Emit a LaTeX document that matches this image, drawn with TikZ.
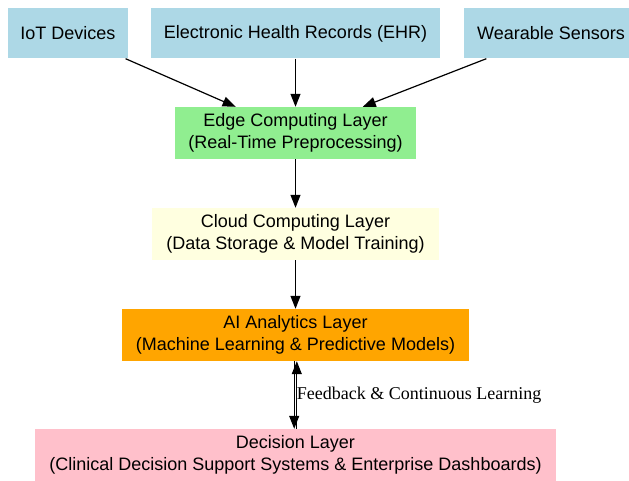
\documentclass[tikz,border=0pt]{standalone}
\usepackage{fontspec}
\setmainfont{Liberation Sans}
\newfontfamily\labelface{Liberation Serif}
\usetikzlibrary{arrows.meta}
\definecolor{srcblue}{HTML}{ADD8E6}
\definecolor{edgegreen}{HTML}{90EE90}
\definecolor{cloudyellow}{HTML}{FFFFE0}
\definecolor{aiorange}{HTML}{FFA500}
\definecolor{decpink}{HTML}{FFC0CB}
\begin{document}
\begin{tikzpicture}[x=1bp,y=-1bp,
  box/.style={rectangle, inner sep=0pt, align=center, text=black,
    font=\fontsize{18bp}{21.5bp}\selectfont},
  arr/.style={draw=black, line width=1.2bp, -{Triangle[length=13bp,width=10bp]}},
  lbl/.style={font=\labelface\fontsize{18bp}{21.5bp}\selectfont, text=black, inner sep=0pt}]
\useasboundingbox (0,0) rectangle (629,481);
\clip (0,0) rectangle (629,481);
\node[box, fill=srcblue, minimum width=120bp, minimum height=50bp] (iot) at (68,33.5) {IoT Devices};
\node[box, fill=srcblue, minimum width=289bp, minimum height=50bp] (ehr) at (295.5,33.5) {Electronic Health Records (EHR)};
\node[box, fill=srcblue, minimum width=174bp, minimum height=50bp] (wear) at (551,33.5) {Wearable Sensors};
\node[box, fill=edgegreen, minimum width=241bp, minimum height=52bp] (edge) at (295.5,133) {Edge Computing Layer\\(Real-Time Preprocessing)};
\node[box, fill=cloudyellow, minimum width=287bp, minimum height=52bp] (cloud) at (295.5,234) {Cloud Computing Layer\\(Data Storage \& Model Training)};
\node[box, fill=aiorange, minimum width=347bp, minimum height=52bp] (ai) at (295.5,335) {AI Analytics Layer\\(Machine Learning \& Predictive Models)};
\node[box, fill=decpink, minimum width=521bp, minimum height=52bp] (dec) at (295.5,455) {Decision Layer\\(Clinical Decision Support Systems \& Enterprise Dashboards)};
\draw[arr] (iot) -- (edge);
\draw[arr] (ehr) -- (edge);
\draw[arr] (wear) -- (edge);
\draw[arr] (edge) -- (cloud);
\draw[arr] (cloud) -- (ai);
\draw[arr] ([xshift=-1.3bp]ai.south) -- ([xshift=-1.3bp]dec.north);
\draw[arr] ([xshift=1.3bp]dec.north) -- ([xshift=1.3bp]ai.south)
  node[lbl, midway, anchor=west, xshift=-0.5bp] (fb) {Feedback \& Continuous Learning};
\end{tikzpicture}
\end{document}
